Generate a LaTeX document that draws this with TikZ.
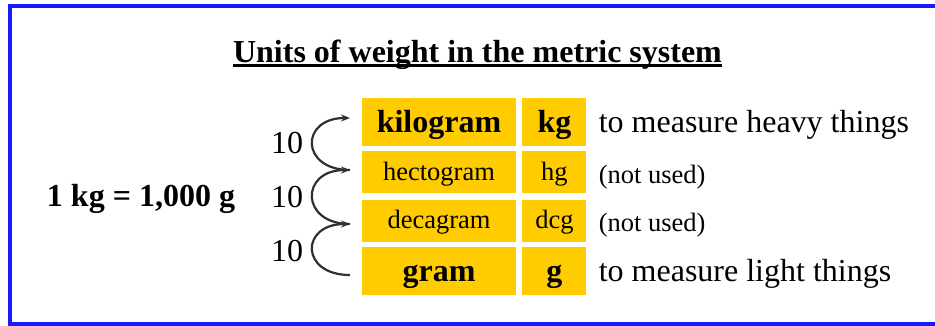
\documentclass[tikz,border=0pt]{standalone}
\usepackage{fontspec}
\setmainfont{Liberation Serif}
\usetikzlibrary{arrows.meta, positioning}
\definecolor{CellGold}{HTML}{FFCC00}
\definecolor{FrameBlue}{HTML}{1A1AFF}
\definecolor{ArcGray}{HTML}{303030}

\begin{document}
\begin{tikzpicture}[
    x=1pt, y=-1pt,
    bigtxt/.style={font=\fontsize{32}{37}\selectfont},
    smalltxt/.style={font=\fontsize{26.5}{30}\selectfont},
    cell/.style={fill=CellGold, inner sep=0pt, align=center},
    bigcell/.style={cell, font=\fontsize{32}{37}\selectfont\bfseries, minimum height=48pt,
        text height=24.8pt, text depth=4.6pt},
    smallcell/.style={cell, smalltxt, minimum height=42pt, text height=20pt, text depth=4pt},
    namecol/.style={minimum width=154pt},
    symcol/.style={minimum width=64pt},
    note/.style={anchor=base west, inner sep=0pt},
    tenarrow/.style={-{Stealth[length=9pt, width=7pt]}, line width=2.2pt, ArcGray},
]
\useasboundingbox (0,0) rectangle (935,325);

% frame
\draw[FrameBlue, line width=4pt] (940,6) -| (9.5,323.5) -- (940,323.5);

% title
\node[font=\fontsize{32}{38}\selectfont\bfseries, anchor=base, inner sep=0pt] (title) at (477.5,62)
    {Units of weight in the metric system};
\draw[line width=2.2pt] ([yshift=-3.5pt]title.base west) -- ([yshift=-3.5pt]title.base east);

% table of units
\node[bigcell, namecol] (kilo) at (439,122) {kilogram};
\node[smallcell, namecol, below=5pt of kilo] (hecto) {hectogram};
\node[smallcell, namecol, below=6pt of hecto] (deca) {decagram};
\node[bigcell, namecol, below=5pt of deca] (gram) {gram};
\node[bigcell, symcol, right=6pt of kilo] (kg) {kg};
\node[smallcell, symcol, right=6pt of hecto] (hg) {hg};
\node[smallcell, symcol, right=6pt of deca] (dcg) {dcg};
\node[bigcell, symcol, right=6pt of gram] (g) {g};

\node[note, bigtxt] (heavy) at ([xshift=12pt]kg.base east) {to measure heavy things};
\node[note, smalltxt] (unused1) at ([xshift=12pt, yshift=-3pt]hg.base east) {(not used)};
\node[note, smalltxt] (unused2) at ([xshift=12pt, yshift=-3pt]dcg.base east) {(not used)};
\node[note, bigtxt] (light) at ([xshift=12pt]g.base east) {to measure light things};

% factors of ten
\coordinate (a0) at (350,118);
\coordinate (a1) at (350,170);
\coordinate (a2) at (350,224);
\coordinate (a3) at (350,275);
\foreach \lo/\hi in {a1/a0, a2/a1, a3/a2}
    \draw[tenarrow] (\lo) .. controls +(-50,0) and +(-50,0) .. (\hi);
\node[bigtxt, anchor=base, inner sep=0pt] (ten1) at (287,153) {10};
\node[bigtxt, anchor=base, inner sep=0pt] (ten2) at (287,207) {10};
\node[bigtxt, anchor=base, inner sep=0pt] (ten3) at (287,261) {10};

\node[font=\fontsize{32}{37}\selectfont\bfseries, anchor=base, inner sep=0pt] (rule)
    at (141,206) {1 kg = 1,000 g};

\end{tikzpicture}
\end{document}
